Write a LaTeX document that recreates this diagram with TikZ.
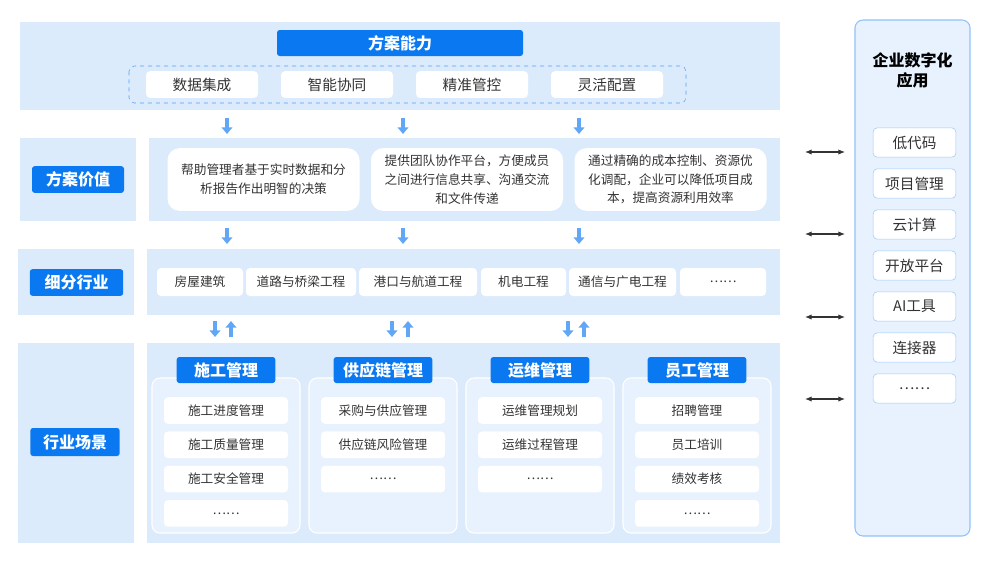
\documentclass[tikz,border=0pt]{standalone}
\usepackage{fontspec}
\setmainfont{Noto Sans CJK SC}
\usetikzlibrary{arrows.meta,positioning}
\definecolor{bandbg}{HTML}{DCEBFC}
\definecolor{mainblue}{HTML}{0A78F0}
\definecolor{groupbg}{HTML}{E8F2FE}
\definecolor{txt}{HTML}{333333}
\tikzset{
  band/.style={fill=bandbg,draw=none},
  tag/.style={fill=mainblue,rounded corners=2pt,text=white,font=\bfseries\fontsize{12}{14}\selectfont},
  item/.style={fill=white,rounded corners=3pt,text=txt,font=\fontsize{9}{11}\selectfont,align=center},
  flow/.style={-{Triangle[width=8pt,length=5pt]},line width=3pt,mainblue!65},
  link/.style={{Latex[length=5pt,width=4pt]}-{Latex[length=5pt,width=4pt]},thick,black!80}
}
\begin{document}
\begin{tikzpicture}[x=0.75pt,y=-0.75pt]
  \useasboundingbox (0,0) rectangle (1000,565);
  % top band
  \path[band] (20,22) rectangle (780,110);
  \node[tag,minimum width=184.5pt,minimum height=19.5pt] (cap) at (400,43) {方案能力};
  \draw[mainblue!70,dashed,rounded corners=4pt] (129,66) rectangle (686,103);
  \foreach \x/\lab [count=\i] in {202/数据集成,337/智能协同,472/精准管控,607/灵活配置}{
    \node[item,minimum width=84pt,minimum height=20pt,font=\fontsize{11}{13}\selectfont] (cap\i) at (\x,84.5) {\lab};
  }
  % value row
  \path[band] (20,138) rectangle (136,221);
  \path[band] (149,138) rectangle (780,221);
  \node[tag,minimum width=69pt,minimum height=20pt] (val) at (78,179.5) {方案价值};
  \tikzset{valbox/.style={item,rounded corners=9pt,minimum width=144pt,minimum height=47pt,font=\fontsize{9.5}{14}\selectfont}}
  \node[valbox] (val1) at (263.5,179.5) {帮助管理者基于实时数据和分\\析报告作出明智的决策};
  \node[valbox] (val2) at (467,179.5) {提供团队协作平台，方便成员\\之间进行信息共享、沟通交流\\和文件传递};
  \node[valbox] (val3) at (670.5,179.5) {通过精确的成本控制、资源优\\化调配，企业可以降低项目成\\本，提高资源利用效率};
  % industry row
  \path[band] (18,249) rectangle (134,315);
  \path[band] (147,249) rectangle (780,315);
  \node[tag,minimum width=70pt,minimum height=20pt] (ind) at (76.5,282.5) {细分行业};
  \foreach \a/\b/\lab [count=\i] in {157/243/房屋建筑,246/356/道路与桥梁工程,359/477/港口与航道工程,481/566/机电工程,569/676/通信与广电工程,680/766/……}{
    \node[item,minimum width={(\b-\a)*0.75pt},minimum height=21pt,font=\fontsize{9.5}{11}\selectfont] (ind\i) at ({(\a+\b)/2},282) {\lab};
  }
  % flow arrows
  \foreach \x in {227,403,579}{
    \draw[flow] (\x,118) -- (\x,134);
    \draw[flow] (\x,228) -- (\x,244);
  }
  \foreach \x in {215,392,568}{
    \draw[flow] (\x,321) -- (\x,337);
    \draw[flow] (\x+16,337) -- (\x+16,321);
  }
  % scene row
  \path[band] (18,343) rectangle (134,543);
  \path[band] (147,343) rectangle (780,543);
  \node[tag,minimum width=67pt,minimum height=21pt] (scn) at (75,442) {行业场景};
  \foreach \x/\head/\items [count=\i] in {152/施工管理/{施工进度管理,施工质量管理,施工安全管理,……},309/供应链管理/{采购与供应管理,供应链风险管理,……},466/运维管理/{运维管理规划,运维过程管理,……},623/员工管理/{招聘管理,员工培训,绩效考核,……}}{
    \draw[fill=groupbg,draw=white,thick,rounded corners=6pt] (\x,378) rectangle (\x+148,533);
    \node[tag,minimum width=74pt,minimum height=19.5pt] (grp\i) at (\x+74,370) {\head};
    \foreach \lab [count=\j] in \items{
      \node[item,minimum width=93pt,minimum height=20pt,font=\fontsize{9.5}{11}\selectfont] (grp\i-\j) at (\x+74,{410.5+34.3*(\j-1)}) {\lab};
    }
  }
  % right panel
  \draw[fill=groupbg,draw=mainblue!45,thick,rounded corners=6pt] (855,20) rectangle (970,536);
  \node[font=\bfseries\fontsize{12}{15}\selectfont,align=center,text=black] (app) at (912.5,70) {企业数字化\\应用};
  \foreach \lab [count=\i] in {低代码,项目管理,云计算,开放平台,AI工具,连接器,……}{
    \node[item,draw=mainblue!40,minimum width=62pt,minimum height=22pt,font=\fontsize{11}{13}\selectfont] (app\i) at (914.5,{142.5+41*(\i-1)}) {\lab};
  }
  \foreach \y [count=\i] in {152,234,317,399}{
    \coordinate (la\i) at (805,\y);
    \coordinate (lb\i) at (845,\y);
    \draw[link] (la\i) -- (lb\i);
  }
\end{tikzpicture}
\end{document}
